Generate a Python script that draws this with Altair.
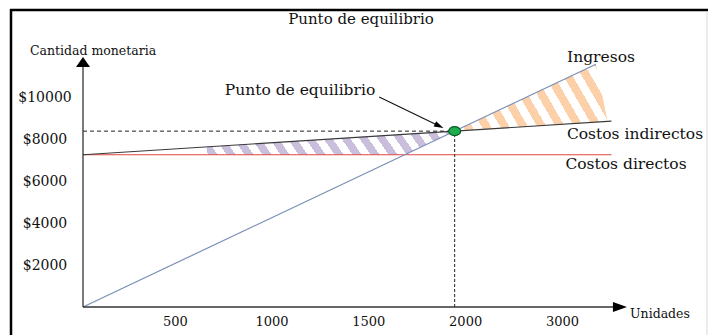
import json
import math

import altair as alt
import numpy as np
import pandas as pd

# ---------------- datos ----------------
# Rectas (unidades, cantidad monetaria)
ingresos_x = [0, 2650]
ingresos_y = [0, 11560]
costos_ind_x = [0, 2730]
costos_ind_y = [7250, 8850]
costos_dir_x = [0, 2730]
costos_dir_y = [7250, 7250]

# Punto de equilibrio
equilibrio_x = [1920]
equilibrio_y = [8375]

# Ejes
x_ticks = [500, 1000, 1500, 2000, 2500]
x_tick_labels = ["500", "1000", "1500", "2000", "3000"]
y_ticks = [2000, 4000, 6000, 8000, 10000]

# Tramos rayados (unidades)
perdida_x = [640, 1662, 1920]
ganancia_x = [1920, 2650, 2710]

# ---------------- diseño ----------------
W, H = 542, 252
PAD_L, PAD_T, PAD_R, PAD_B = 83, 55, 83, 28
X_MAX, Y_MAX = 2800, 12000
KX, KY = W / X_MAX, H / Y_MAX
SERIF = "DejaVu Serif"
INK = "#111111"


def on(xs, ys, x):
    return np.interp(x, xs, ys)


def stripes(color, x_vals, top, bottom, angle=58, period=15.0, duty=0.5, phase=0.0):
    """Linear gradient with hard stops that paints diagonal stripes over the
    bounding box of an area mark."""
    w = (max(x_vals) - min(x_vals)) * KX
    h = (max(top) - min(bottom)) * KY
    dy = -(h / w) / math.tan(math.radians(angle))
    k = (1 - dy) / (1 + dy * dy)
    step = period / ((1 - dy) * w)
    clear = "rgba(255,255,255,0)"
    stops = [{"offset": 0.0, "color": clear}]
    t = phase * step
    while t < 1.0:
        a = max(0.0, min(1.0, t))
        b = max(0.0, min(1.0, t + duty * step))
        stops += [
            {"offset": a, "color": clear},
            {"offset": a, "color": color},
            {"offset": b, "color": color},
            {"offset": b, "color": clear},
        ]
        t += step
    stops.append({"offset": 1.0, "color": clear})
    return {
        "gradient": "linear",
        "x1": 0, "y1": 1, "x2": k, "y2": 1 + k * dy,
        "stops": stops,
    }


SX = alt.Scale(domain=[0, X_MAX], nice=False, zero=False)
SY = alt.Scale(domain=[0, Y_MAX], nice=False, zero=False)

x_label_expr = f"{json.dumps(x_tick_labels)}[indexof({json.dumps(x_ticks)}, datum.value)]"
AX = alt.Axis(
    values=x_ticks, labelExpr=x_label_expr, domain=False, ticks=False, tickSize=0,
    grid=False, title=None, labelFont=SERIF, labelFontSize=13, labelColor=INK,
    labelPadding=8, labelOffset=-5, labelFlush=False, labelOverlap=False,
)
AY = alt.Axis(
    values=y_ticks, labelExpr="'$' + datum.value", domain=False, ticks=False,
    tickSize=0, grid=False, title=None, labelFont=SERIF, labelFontSize=14,
    labelColor=INK, labelAlign="center", labelBaseline="middle",
    labelPadding=38.5, labelFlush=False, labelOverlap=False,
)


def X(f):
    return alt.X(f, type="quantitative", scale=SX, axis=AX)


def Y(f):
    return alt.Y(f, type="quantitative", scale=SY, axis=AY)


# ---------------- zonas rayadas ----------------
px = np.array(perdida_x, dtype=float)
p_top = on(costos_ind_x, costos_ind_y, px)
p_bot = np.maximum(on(ingresos_x, ingresos_y, px), on(costos_dir_x, costos_dir_y, px))
perdida = pd.DataFrame({"x": px, "top": p_top, "bot": p_bot})

gx = np.array(ganancia_x, dtype=float)
g_top = np.where(gx <= ingresos_x[-1], on(ingresos_x, ingresos_y, gx),
                 on(costos_ind_x, costos_ind_y, gx))
g_bot = on(costos_ind_x, costos_ind_y, gx)
ganancia = pd.DataFrame({"x": gx, "top": g_top, "bot": g_bot})

area_perdida = alt.Chart(perdida).mark_area(
    fill=stripes("#c9bedc", px, p_top, p_bot, angle=55, period=18, duty=0.5, phase=0.1),
    opacity=1, interpolate="linear"
).encode(x=X("x"), y=Y("top"), y2=alt.Y2("bot"))

area_ganancia = alt.Chart(ganancia).mark_area(
    fill=stripes("#fcd0a8", gx, g_top, g_bot, angle=60, period=18.5, duty=0.5, phase=0.6),
    opacity=1, interpolate="linear"
).encode(x=X("x"), y=Y("top"), y2=alt.Y2("bot"))


# ---------------- rectas ----------------
def recta(xs, ys, color, width):
    df = pd.DataFrame({"x": xs, "y": ys})
    return alt.Chart(df).mark_line(color=color, strokeWidth=width).encode(x=X("x"), y=Y("y"))


linea_dir = recta(costos_dir_x, costos_dir_y, "#e2463f", 1.0)
linea_ind = recta(costos_ind_x, costos_ind_y, "#3a3a3a", 1.2)
linea_ing = recta(ingresos_x, ingresos_y, "#7b8fb6", 1.2)

eq = pd.DataFrame({"x": equilibrio_x, "y": equilibrio_y, "x0": [0], "y0": [0]})
guia_h = alt.Chart(eq).mark_rule(color="#222222", strokeWidth=1, strokeDash=[4, 3]).encode(
    x=X("x0"), x2=alt.X2("x"), y=Y("y"))
guia_v = alt.Chart(eq).mark_rule(color="#222222", strokeWidth=1, strokeDash=[3, 2]).encode(
    x=X("x"), y=Y("y0"), y2=alt.Y2("y"))

# ---------------- ejes con flecha ----------------
ejes = pd.DataFrame({"x0": [0], "y0": [0], "xe": [2745], "ye": [11500],
                     "xa": [2774], "ya": [11667]})
eje_x = alt.Chart(ejes).mark_rule(color="#333333", strokeWidth=1.3).encode(
    x=X("x0"), x2=alt.X2("xe"), y=Y("y0"))
eje_y = alt.Chart(ejes).mark_rule(color="#333333", strokeWidth=1.3).encode(
    x=X("x0"), y=Y("y0"), y2=alt.Y2("ye"))
flecha_x = alt.Chart(ejes).mark_point(
    shape="M-1,-0.714L1,0L-1,0.714Z", size=196, filled=True, color="#000000", opacity=1
).encode(x=X("xa"), y=Y("y0"))
flecha_y = alt.Chart(ejes).mark_point(
    shape="M-1,0.714L0,-0.714L1,0.714Z", size=196, filled=True, color="#000000", opacity=1
).encode(x=X("x0"), y=Y("ya"))

# ---------------- flecha hacia el punto ----------------
cola = (1530, 10000)
punta = (1840, 8620)
ang = math.degrees(math.atan2((cola[1] - punta[1]) * KY, (punta[0] - cola[0]) * KX))
flecha_df = pd.DataFrame({"x": [cola[0]], "y": [cola[1]], "x2": [punta[0]], "y2": [punta[1]]})
flecha_linea = alt.Chart(flecha_df).mark_rule(color="#111111", strokeWidth=1.1).encode(
    x=X("x"), y=Y("y"), x2=alt.X2("x2"), y2=alt.Y2("y2"))
flecha_punta = alt.Chart(flecha_df).mark_point(
    shape="M-1,-0.6L1,0L-1,0.6Z", size=90, angle=ang, filled=True, color="#000000", opacity=1
).encode(x=X("x2"), y=Y("y2"))

punto = alt.Chart(eq).mark_point(
    shape="M-1,0A1,0.75 0 1,0 1,0A1,0.75 0 1,0 -1,0Z", size=144, filled=True,
    fill="#1fae4c", stroke="#0c5a26", strokeWidth=1.2, opacity=1
).encode(x=X("x"), y=Y("y"))


# ---------------- textos ----------------
def texto(t, x, y, size, align="center"):
    return alt.Chart(pd.DataFrame({"t": [t]})).mark_text(
        text=t, font=SERIF, fontSize=size, align=align, baseline="middle", color=INK
    ).encode(x=alt.value(x - PAD_L), y=alt.value(y - PAD_T))


textos = [
    texto("Punto de equilibrio", 361, 19, 15),
    texto("Cantidad monetaria", 93, 51, 12.5),
    texto("Punto de equilibrio", 300, 90, 15.5),
    texto("Ingresos", 601, 57, 15.5),
    texto("Costos indirectos", 635, 134, 15.5),
    texto("Costos directos", 626, 164, 15.5),
    texto("Unidades", 660, 314, 12.5),
]


# ---------------- marco ----------------
def regla(x, x2, y, y2, color, width):
    return alt.Chart(pd.DataFrame({"a": [0]})).mark_rule(color=color, strokeWidth=width).encode(
        x=alt.value(x - PAD_L), x2=alt.value(x2 - PAD_L),
        y=alt.value(y - PAD_T), y2=alt.value(y2 - PAD_T))


marco = [
    regla(10, 708, 10, 10, "#000000", 2.5),
    regla(11, 11, 9, 335, "#000000", 2.5),
    regla(707, 707, 11, 335, "#d8d8d8", 1),
]

chart = alt.layer(
    area_perdida, area_ganancia,
    linea_dir, linea_ind, linea_ing,
    guia_h, guia_v,
    eje_x, eje_y, flecha_x, flecha_y,
    flecha_linea, flecha_punta, punto,
    *textos, *marco,
).properties(
    width=W, height=H,
    autosize=alt.AutoSizeParams(type="none"),
    padding={"left": PAD_L, "top": PAD_T, "right": PAD_R, "bottom": PAD_B},
    background="#ffffff",
).configure_view(stroke=None)

chart.save("out.html", embed_options={"renderer": "svg", "actions": False})
